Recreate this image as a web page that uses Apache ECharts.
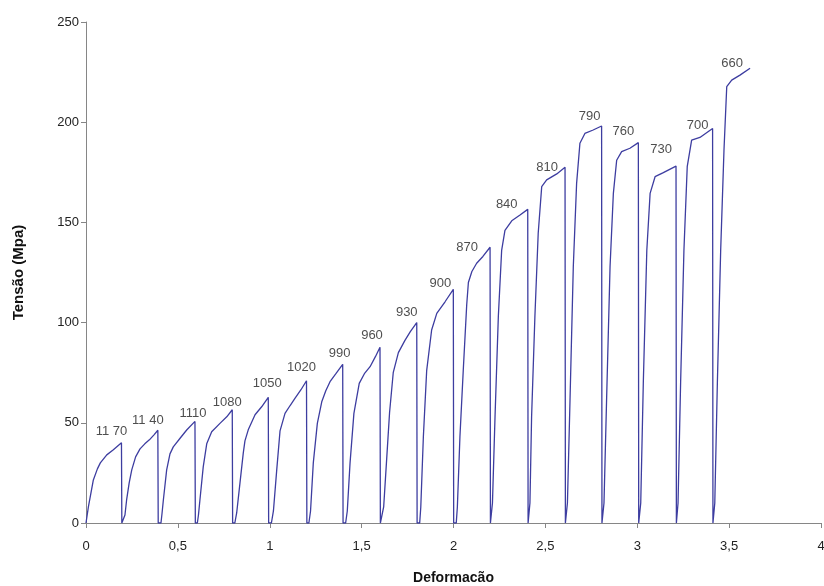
<!DOCTYPE html>
<html>
<head>
<meta charset="utf-8">
<script src="https://cdn.jsdelivr.net/npm/echarts@6/dist/echarts.min.js"></script>
<style>html,body{margin:0;padding:0;background:#fff}#c{width:824px;height:586px}</style>
</head>
<body>
<div id="c"></div>
<script>
// Each loading cycle: [deformação, tensão] pairs
const seg1  = [[0,0],[0.013,8],[0.04,21.5],[0.062,27],[0.078,30],[0.113,34],[0.149,36.5],[0.193,40],[0.195,0]];
const seg2  = [[0.204,0],[0.212,4],[0.221,11.5],[0.235,20],[0.249,26.5],[0.27,33],[0.294,37],[0.32,39.5],[0.345,41.5],[0.37,44],[0.391,46.3],[0.393,0]];
const seg3  = [[0.408,0],[0.414,5],[0.421,11.5],[0.439,26.5],[0.457,34.5],[0.475,38],[0.512,42.3],[0.548,46.4],[0.593,50.7],[0.595,0]];
const seg4  = [[0.606,0],[0.612,4],[0.62,11.5],[0.638,28],[0.657,39.5],[0.684,45.5],[0.729,49.7],[0.766,53],[0.796,56.5],[0.798,0]];
const seg5  = [[0.81,0],[0.82,5],[0.838,20],[0.856,35],[0.865,41],[0.883,46.5],[0.92,54],[0.956,58],[0.992,62.7],[0.994,0]];
const seg6  = [[1.009,0],[1.02,6],[1.038,26.5],[1.056,46],[1.083,54.7],[1.11,58.5],[1.137,62.2],[1.17,66.5],[1.2,71],[1.202,0]];
const seg7  = [[1.213,0],[1.222,6],[1.237,30],[1.259,49.7],[1.283,60.5],[1.305,66],[1.328,70.5],[1.36,74.5],[1.397,79.2],[1.399,0]];
const seg8  = [[1.413,0],[1.422,6],[1.437,30],[1.458,54.7],[1.487,69.7],[1.515,74.5],[1.546,78],[1.575,83],[1.6,87.7],[1.602,0]];
const seg9  = [[1.612,0],[1.62,8],[1.635,30],[1.652,55],[1.672,75],[1.7,85],[1.735,91],[1.765,95.5],[1.8,100],[1.802,0]];
const seg10 = [[1.816,0],[1.822,8],[1.836,43],[1.854,76],[1.881,96.3],[1.909,104.6],[1.954,110.4],[1.999,116.6],[2.001,0]];
const seg11 = [[2.015,0],[2.021,8],[2.035,43],[2.053,76],[2.072,109],[2.081,120],[2.1,125.5],[2.126,129.6],[2.16,133],[2.199,137.6],[2.201,0]];
const seg12 = [[2.206,0],[2.212,10],[2.226,53],[2.244,103],[2.262,136],[2.28,146],[2.317,150.8],[2.362,153.7],[2.404,156.5],[2.406,0]];
const seg13 = [[2.411,0],[2.416,10],[2.425,53],[2.443,103],[2.461,144.6],[2.48,167.8],[2.507,171.2],[2.562,174.2],[2.607,177.5],[2.609,0]];
const seg14 = [[2.614,0],[2.62,10],[2.634,61],[2.652,128],[2.67,169.5],[2.688,189.5],[2.715,194.4],[2.76,196.1],[2.806,198.1],[2.808,0]];
const seg15 = [[2.813,0],[2.819,10],[2.833,61],[2.852,128],[2.87,164.5],[2.888,181],[2.915,185.3],[2.96,187],[3.006,189.8],[3.008,0]];
const seg16 = [[3.013,0],[3.019,10],[3.033,70],[3.052,136],[3.07,164.5],[3.097,172.8],[3.142,174.8],[3.211,178.1],[3.213,0]];
const seg17 = [[3.216,0],[3.222,10],[3.236,70],[3.254,136],[3.272,177.8],[3.296,191.1],[3.341,192.4],[3.41,196.9],[3.412,0]];
const seg18 = [[3.416,0],[3.422,10],[3.436,70],[3.454,136],[3.472,186],[3.487,217.7],[3.514,221],[3.559,223.5],[3.614,226.9]];

const peakLabels = ['11 70','11 40','1110','1080','1050','1020','990','960','930','900','870','840','810','790','760','730','700','660'];

// label placement relative to each cycle's peak (pixels) - style only
const labelOffsets = [[-10,-11],[-10,-10],[-2,-8],[-5,-7],[-1,-14],[-5,-13],[-3,-11],[-8,-12],[-10,-10],[-13,-6],[-23,0],[-21,-5],[-18,0],[-12,-10],[-15,-11],[-15,-17],[-15,-3],[-18,-5]];

const segments = [seg1,seg2,seg3,seg4,seg5,seg6,seg7,seg8,seg9,seg10,seg11,seg12,seg13,seg14,seg15,seg16,seg17,seg18];
const lineData = [].concat(...segments);
const peakData = segments.map((s, i) => {
  let p = s[0];
  s.forEach(q => { if (q[1] > p[1]) p = q; });
  return { value: p, label: { offset: labelOffsets[i] } };
});

const FONT = "'Liberation Sans', Arial, sans-serif";
const chart = echarts.init(document.getElementById('c'), null, { renderer: 'canvas' });
chart.setOption({
  animation: false,
  backgroundColor: '#fff',
  grid: { left: 86, right: 3, top: 22, bottom: 63, containLabel: false, outerBoundsMode: 'none' },
  xAxis: {
    type: 'value', min: 0, max: 4, interval: 0.5,
    name: 'Deformacão', nameLocation: 'middle', nameGap: 48,
    nameTextStyle: { fontFamily: FONT, fontWeight: 'bold', fontSize: 14, color: '#111' },
    axisLine: { show: true, onZero: false, lineStyle: { color: '#868686', width: 1 } },
    axisTick: { show: true, inside: false, length: 5, lineStyle: { color: '#868686' } },
    axisLabel: { fontFamily: FONT, fontSize: 13, color: '#222', margin: 17,
      formatter: v => String(v).replace('.', ',') },
    splitLine: { show: false }
  },
  yAxis: {
    type: 'value', min: 0, max: 250, interval: 50,
    name: 'Tensão (Mpa)', nameLocation: 'middle', nameGap: 60, nameRotate: 90,
    nameTextStyle: { fontFamily: FONT, fontWeight: 'bold', fontSize: 15, color: '#111' },
    axisLine: { show: true, lineStyle: { color: '#868686', width: 1 } },
    axisTick: { show: true, inside: false, length: 5, lineStyle: { color: '#868686' } },
    axisLabel: { fontFamily: FONT, fontSize: 13, color: '#222', margin: 7 },
    splitLine: { show: false }
  },
  series: [
    {
      type: 'line', data: lineData, showSymbol: false, symbol: 'none', smooth: false,
      lineStyle: { color: '#3d3da0', width: 1.3 }, z: 2
    },
    {
      type: 'scatter', data: peakData, symbolSize: 0, silent: true, z: 3,
      label: { show: true, position: 'inside', fontFamily: FONT, fontSize: 13, color: '#222',
        formatter: p => peakLabels[p.dataIndex] }
    }
  ]
});
</script>
</body>
</html>
